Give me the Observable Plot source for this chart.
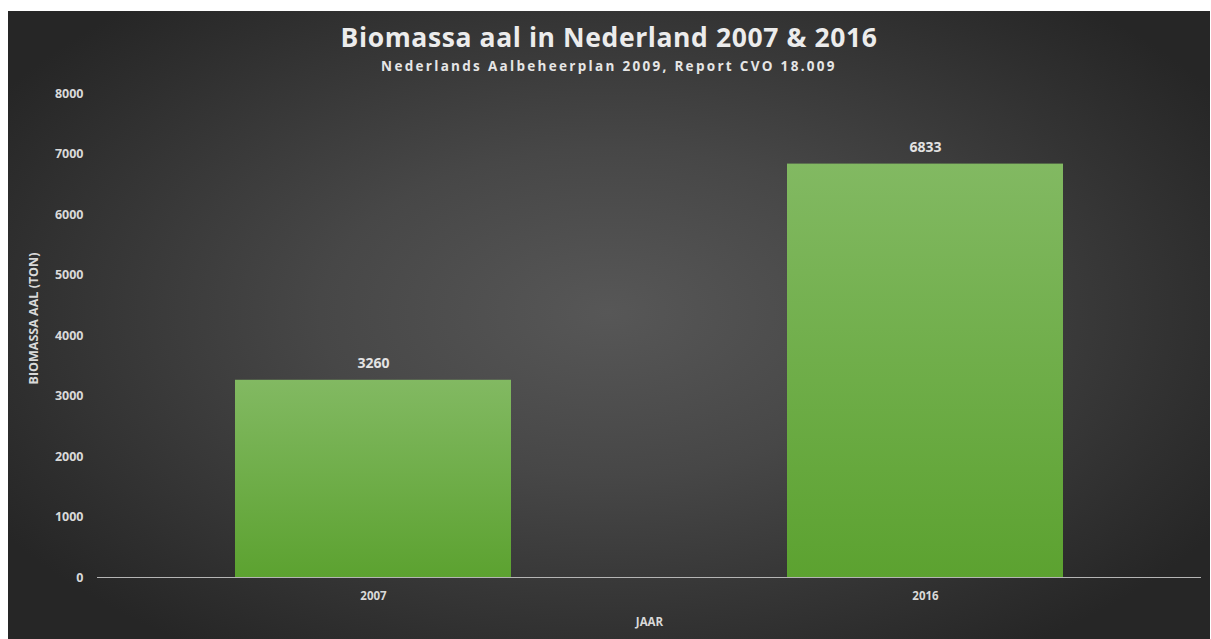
<!DOCTYPE html>
<html>
<head>
<meta charset="utf-8">
<script src="https://cdn.jsdelivr.net/npm/d3@7"></script>
<script src="https://cdn.jsdelivr.net/npm/@observablehq/plot@0.6"></script>
<style>
  html, body { margin: 0; padding: 0; background: #ffffff; }
  #chart {
    position: absolute; left: 8px; top: 11px; width: 1202px; height: 628px;
    background: radial-gradient(ellipse 60% 65% at 50% 48%, #575757 0%, #474747 40%, #2e2e2e 85%, #262626 100%);
    font-family: "Open Sans", sans-serif; color: #e6e6e6; overflow: hidden;
  }
  #title { position: absolute; left: 0; width: 100%; top: 9px; text-align: center;
    font-size: 26.5px; font-weight: 700; letter-spacing: 0.6px; line-height: 34px; color: #ececec; }
  #subtitle { position: absolute; left: 0; width: 100%; top: 46px; text-align: center;
    font-size: 13.5px; font-weight: 700; letter-spacing: 2.3px; line-height: 18px; color: #e6e6e6; }
  #plot { position: absolute; left: 0; top: 69px; }
</style>
</head>
<body>
<div id="chart">
  <div id="title">Biomassa aal in Nederland 2007 &amp; 2016</div>
  <div id="subtitle">Nederlands Aalbeheerplan 2009, Report CVO 18.009</div>
  <div id="plot"></div>
</div>
<script>
const years = ["2007", "2016"];
const biomass = [3260, 6833];
const yTicks = [0, 1000, 2000, 3000, 4000, 5000, 6000, 7000, 8000];

const data = years.map((y, i) => ({year: y, value: biomass[i]}));

const plot = Plot.plot({
  width: 1202,
  height: 559,
  marginTop: 13,
  marginBottom: 62,
  marginLeft: 89,
  marginRight: 9,
  style: {background: "transparent", color: "#d9d9d9", fontFamily: "Open Sans, sans-serif"},
  x: {domain: years, paddingInner: 0.5, paddingOuter: 0.25},
  y: {domain: [0, 8000]},
  marks: [
    Plot.barY(data, {x: "year", y: "value", fill: "url(#barGrad)"}),
    Plot.ruleY([0], {stroke: "#b5b5b5", strokeWidth: 1.2}),
    Plot.text(data, {x: "year", y: "value", text: d => String(d.value), dy: -17,
      fill: "#e3e3e3", fontSize: 14, fontWeight: "bold"}),
    Plot.axisY({ticks: yTicks, tickSize: 0, tickPadding: 14, fontSize: 12.5, fontWeight: "bold",
      label: "BIOMASSA AAL (TON)", labelAnchor: "center", labelOffset: 68, labelArrow: "none",
      tickFormat: d => String(d), fill: "#d9d9d9"}),
    Plot.axisX({tickSize: 0, tickPadding: 14, fontSize: 11.5, fontWeight: "bold",
      label: "JAAR", labelAnchor: "center", labelOffset: 48, labelArrow: "none", fill: "#d9d9d9"})
  ]
});

const ns = "http://www.w3.org/2000/svg";
const defs = document.createElementNS(ns, "defs");
defs.innerHTML = `<linearGradient id="barGrad" x1="0" y1="0" x2="0" y2="1">
  <stop offset="0%" stop-color="#82b962"/>
  <stop offset="100%" stop-color="#5ca230"/>
</linearGradient>`;
plot.insertBefore(defs, plot.firstChild);

// nudge the y-axis title upward, as in the reference
const yLabel = plot.querySelector('[aria-label="y-axis label"]');
if (yLabel) {
  const t = yLabel.getAttribute("transform") || "";
  yLabel.setAttribute("transform", `translate(0,-17) ${t}`);
}
document.getElementById("plot").appendChild(plot);
</script>
</body>
</html>
